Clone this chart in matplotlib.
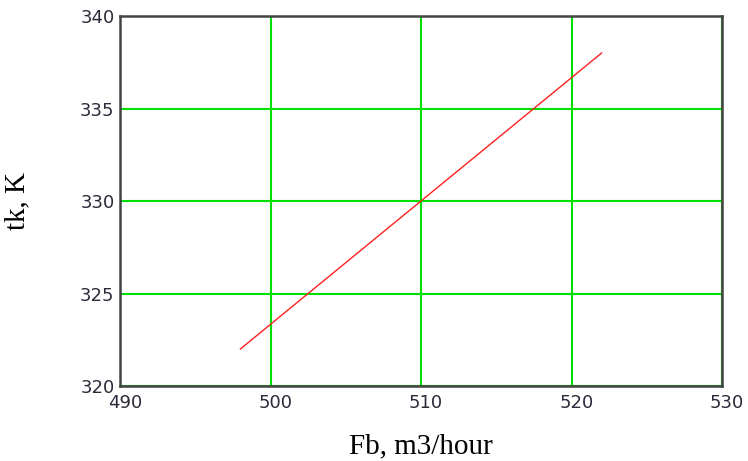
import matplotlib
matplotlib.use('Agg')
import matplotlib.pyplot as plt
import matplotlib.transforms as mtransforms

# data
fb = [498, 504, 510, 516, 522]
tk = [322, 326, 330, 334, 338]
xticks = [490, 500, 510, 520, 530]
yticks = [320, 325, 330, 335, 340]

fig = plt.figure(figsize=(7.48, 4.61), dpi=100)
ax = fig.add_axes([120 / 748, 75 / 461, 602 / 748, 370 / 461])

ax.plot(fb, tk, color='#ff2020', lw=1.0)

ax.set_xlim(490, 530)
ax.set_ylim(320, 340)
ax.set_xticks(xticks)
ax.set_yticks(yticks)
ax.grid(True, color='#00e000', lw=1.5)
ax.set_axisbelow(True)

for s in ax.spines.values():
    s.set_color('#444444')
    s.set_linewidth(1.8)

ax.tick_params(length=0, pad=4, labelsize=13, labelcolor='#2a2a3a')
ax.tick_params(axis='x', pad=6)
# x tick labels sit a little right of their ticks in the reference
shift = mtransforms.ScaledTranslation(5 / 100, 0, fig.dpi_scale_trans)
for lab in ax.get_xticklabels():
    lab.set_family('DejaVu Sans')
    lab.set_transform(lab.get_transform() + shift)
for lab in ax.get_yticklabels():
    lab.set_family('DejaVu Sans')

ax.set_xlabel('Fb, m3/hour', family='Liberation Serif', fontsize=21, labelpad=15)
ax.set_ylabel('tk, K', family='Liberation Serif', fontsize=21, labelpad=36)

fig.savefig('out.png', dpi=100)
